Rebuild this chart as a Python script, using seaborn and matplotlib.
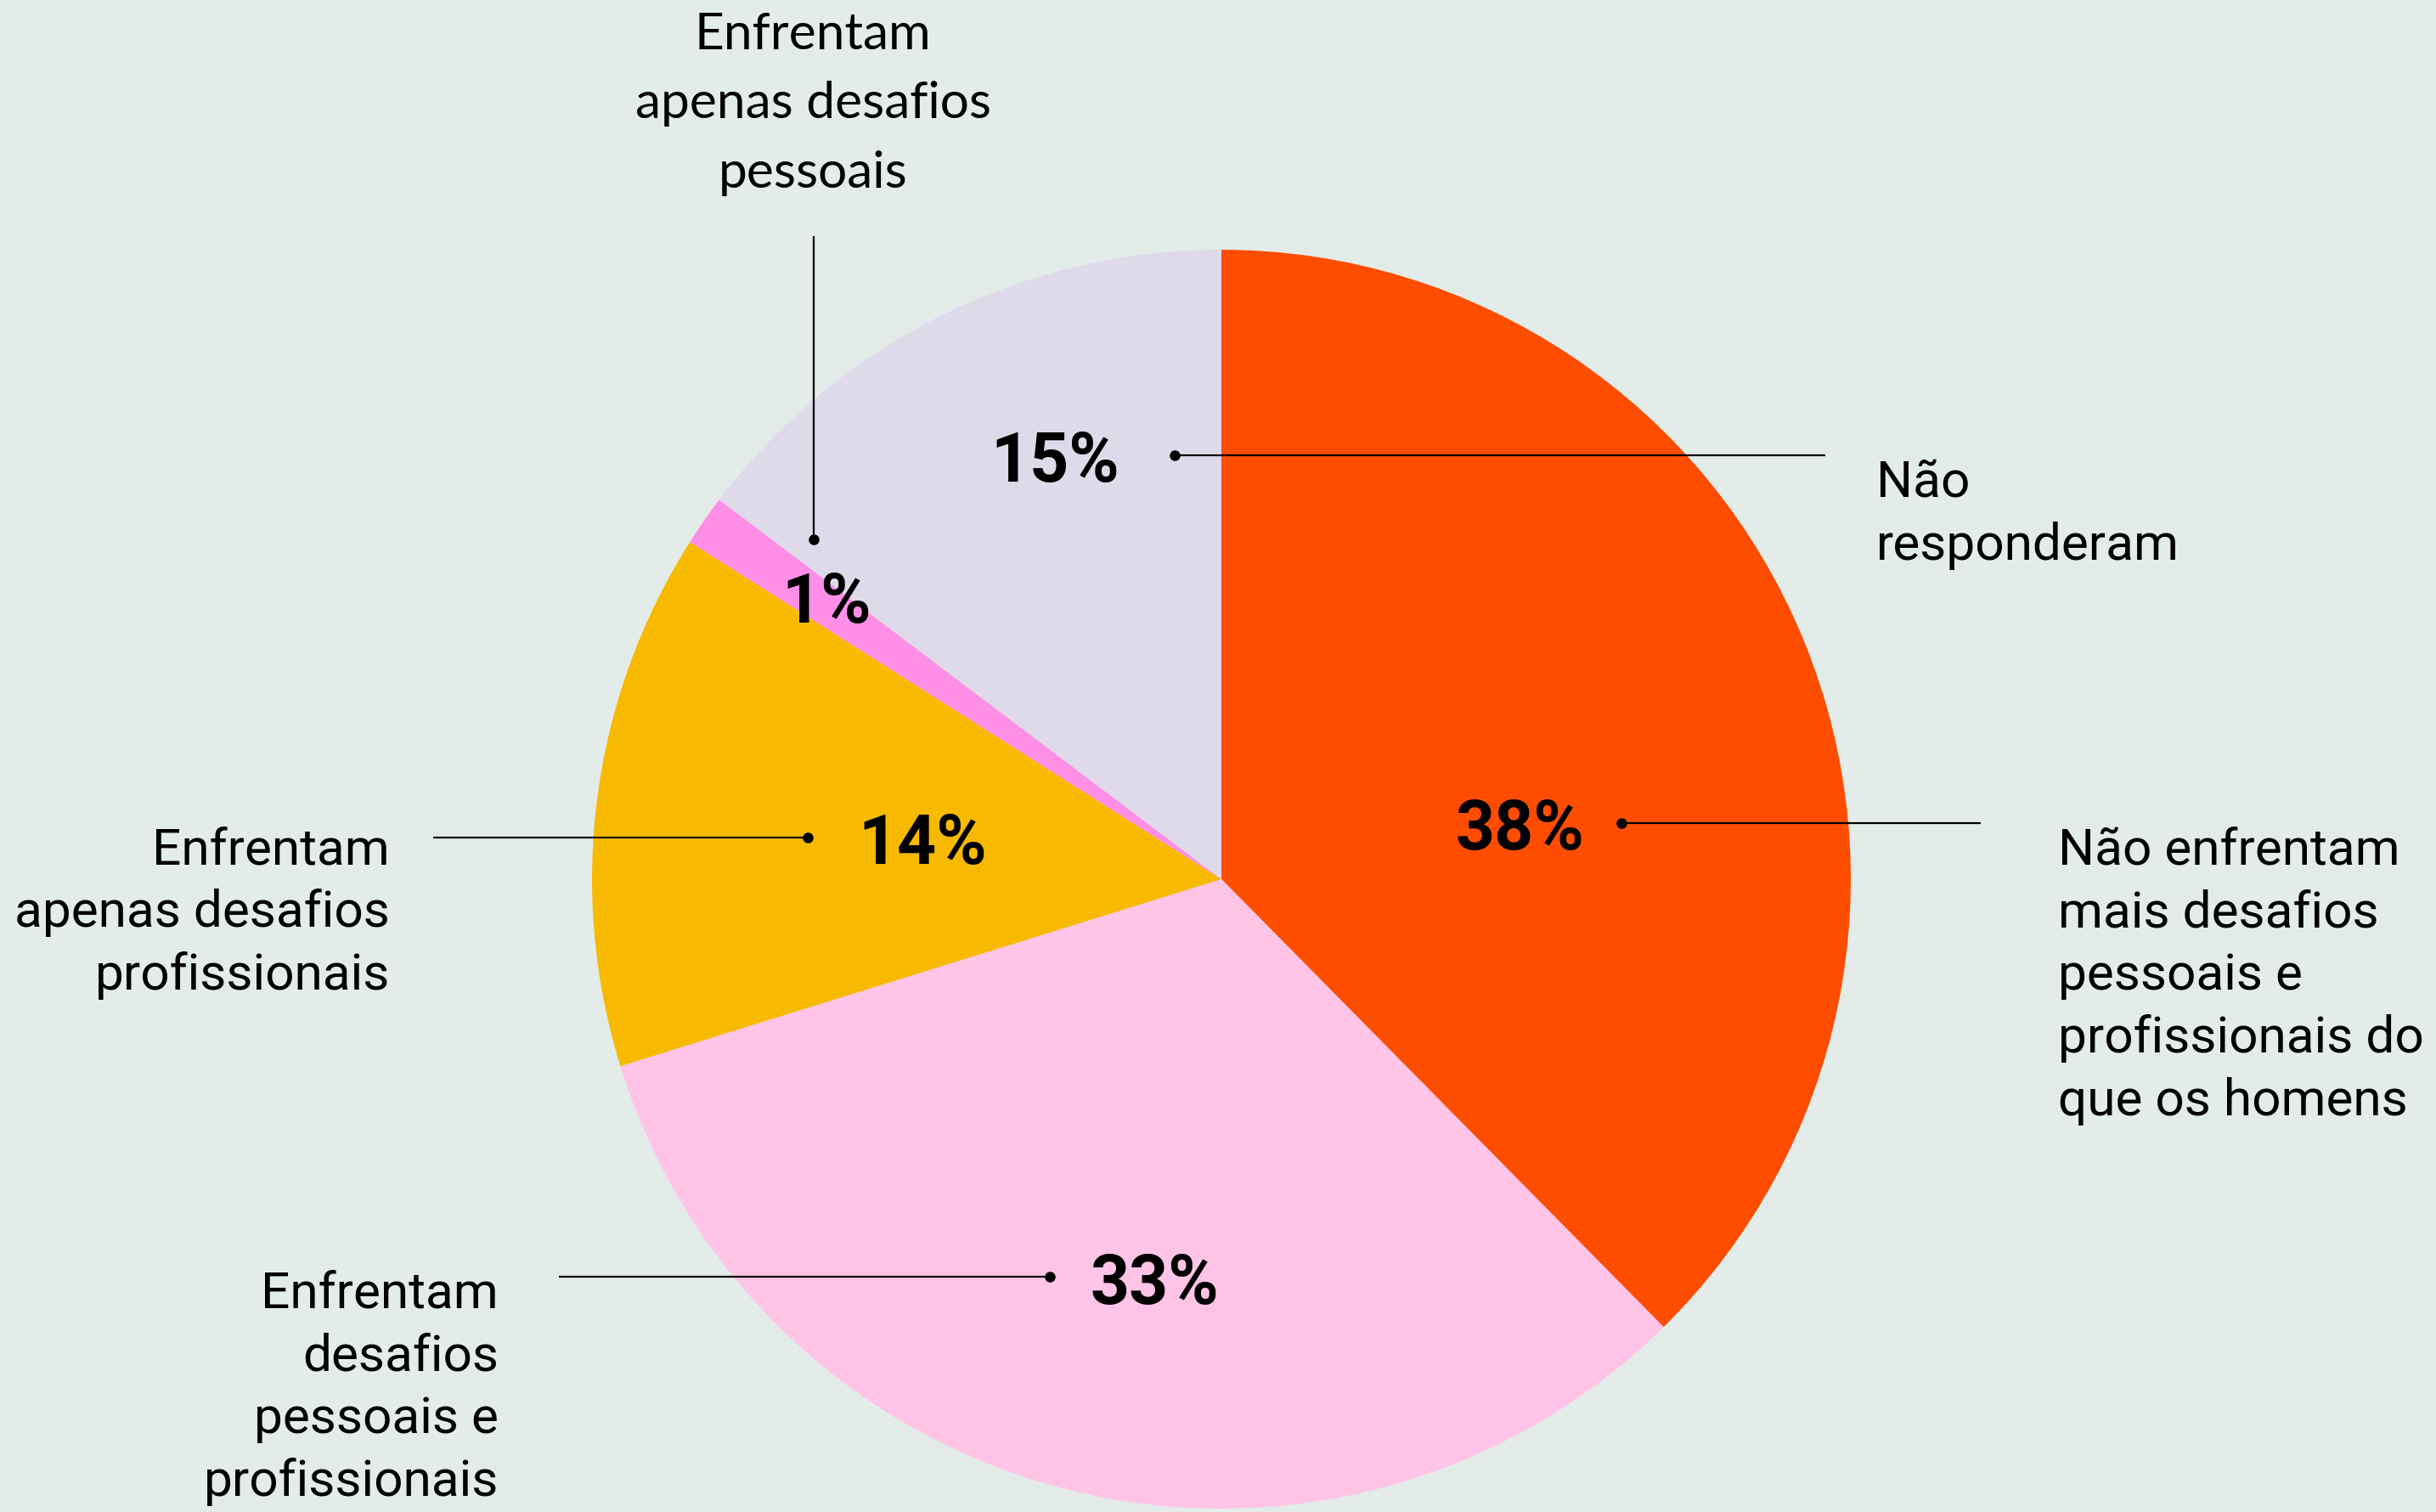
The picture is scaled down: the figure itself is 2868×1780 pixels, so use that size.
import matplotlib
matplotlib.use("Agg")
import matplotlib.pyplot as plt
import seaborn as sns

# Data (clockwise from 12 o'clock)
categories = [
    "Não enfrentam mais desafios pessoais e profissionais do que os homens",
    "Enfrentam desafios pessoais e profissionais",
    "Enfrentam apenas desafios profissionais",
    "Enfrentam apenas desafios pessoais",
    "Não responderam",
]
shares = [37.6, 32.6, 13.8, 1.3, 14.7]
pct_labels = ["38%", "33%", "14%", "1%", "15%"]
colors = ["#FF4D00", "#FFC4E6", "#F7BA00", "#FF8FE6", "#DFDAE9"]

bg = "#E3ECE9"
W, H = 2868, 1780

sns.set_theme(style="white")
plt.rcParams["font.family"] = ["Roboto", "DejaVu Sans"]

fig = plt.figure(figsize=(W / 100, H / 100), dpi=100, facecolor=bg)
ax = fig.add_axes([0, 0, 1, 1])
ax.set_facecolor(bg)


def Y(y):
    # image row -> data y
    return H - y


ax.pie(shares, colors=colors, startangle=90, counterclock=False,
       center=(1438, Y(1035)), radius=741, frame=True,
       wedgeprops=dict(linewidth=0))
ax.set_xlim(0, W)
ax.set_ylim(0, H)
ax.axis("off")

pct_kw = dict(fontsize=58, fontweight="bold", ha="center", va="baseline",
              color="black")
lab_kw = dict(fontsize=43.5, va="top", color="black")
line_kw = dict(color="black", lw=1.6, solid_capstyle="butt")
dot_kw = dict(marker="o", ms=8, color="black", ls="none")

# 38% - right
ax.text(1789, Y(1000), pct_labels[0], **pct_kw)
ax.plot([1909, 2332], [Y(969), Y(969)], **line_kw)
ax.plot([1909], [Y(969)], **dot_kw)
ax.text(2423, Y(972), "Não enfrentam\nmais desafios\npessoais e\nprofissionais do\nque os homens",
        ha="left", linespacing=1.38, **lab_kw)

# 33% - bottom left
ax.text(1359, Y(1535), pct_labels[1], **pct_kw)
ax.plot([658, 1236], [Y(1503), Y(1503)], **line_kw)
ax.plot([1236], [Y(1503)], **dot_kw)
ax.text(587, Y(1494), "Enfrentam\ndesafios\npessoais e\nprofissionais",
        ha="right", linespacing=1.38, **lab_kw)

# 14% - left
ax.text(1086, Y(1017), pct_labels[2], **pct_kw)
ax.plot([510, 951], [Y(986), Y(986)], **line_kw)
ax.plot([951], [Y(986)], **dot_kw)
ax.text(459, Y(972), "Enfrentam\napenas desafios\nprofissionais",
        ha="right", linespacing=1.38, **lab_kw)

# 1% - top
ax.text(973, Y(733), pct_labels[3], **pct_kw)
ax.plot([958, 958], [Y(278), Y(635)], **line_kw)
ax.plot([958], [Y(635)], **dot_kw)
ax.text(957, Y(14), "Enfrentam\napenas desafios\npessoais",
        ha="center", linespacing=1.62, family=["Lato", "DejaVu Sans"],
        **lab_kw)

# 15% - upper
ax.text(1242, Y(567), pct_labels[4], **pct_kw)
ax.plot([1383, 2149], [Y(536), Y(536)], **line_kw)
ax.plot([1383], [Y(536)], **dot_kw)
ax.text(2209, Y(540), "Não\nresponderam", ha="left", linespacing=1.38,
        **lab_kw)

fig.savefig("out.png", dpi=100, facecolor=bg)
